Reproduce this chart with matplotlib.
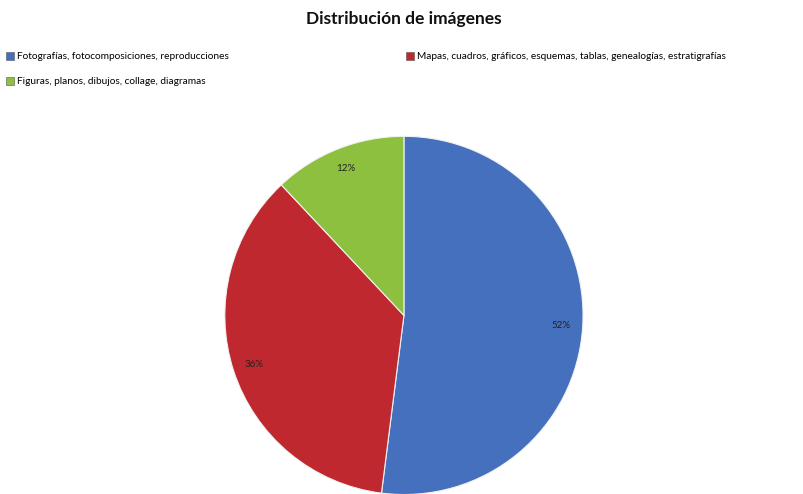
import matplotlib
matplotlib.use('Agg')
from matplotlib import pyplot as plt
from matplotlib.patches import Patch

plt.rcParams['font.family'] = ['Lato', 'DejaVu Sans']

# Data
categorias = ['Fotografías, fotocomposiciones, reproducciones',
              'Mapas, cuadros, gráficos, esquemas, tablas, genealogías, estratigrafías',
              'Figuras, planos, dibujos, collage, diagramas']
porcentajes = [52, 36, 12]
colores = ['#4470BE', '#C0282F', '#8EC03F']
titulo = 'Distribución de imágenes'

fig = plt.figure(figsize=(8.04, 4.94), dpi=100)
fig.patch.set_facecolor('white')

# pie axes: centre ~ (404, 312) px, radius ~ 181 px
ax = fig.add_axes([0.2774, -0.005, 0.450, 0.733])
wedges, texts, autotexts = ax.pie(
    porcentajes, colors=colores, startangle=90, counterclock=False,
    autopct='%d%%', pctdistance=0.88, radius=1.0,
    wedgeprops=dict(edgecolor='#F2F2F2', linewidth=0.8),
    textprops=dict(fontsize=7, color='#222222'))
ax.set_xlim(-1.01, 1.01)
ax.set_ylim(-1.01, 1.01)
ax.set_aspect('equal')

fig.text(0.5025, 0.962, titulo, ha='center', va='center',
         fontsize=12.5, fontweight='bold', color='#111111')

# legend filled row-wise: reorder for the column-first legend layout
handles = [Patch(facecolor=c, edgecolor='#555555', linewidth=0.4) for c in colores]
orden = [0, 2, 1]
leg = fig.legend([handles[i] for i in orden], [categorias[i] for i in orden],
                 loc='upper left', bbox_to_anchor=(0.007, 0.895), ncol=2,
                 frameon=False, fontsize=7.3, handlelength=0.8, handleheight=0.8,
                 handletextpad=0.3, columnspacing=17.5, labelspacing=1.55,
                 borderaxespad=0.0, borderpad=0.0)

fig.savefig('out.png', dpi=100)
